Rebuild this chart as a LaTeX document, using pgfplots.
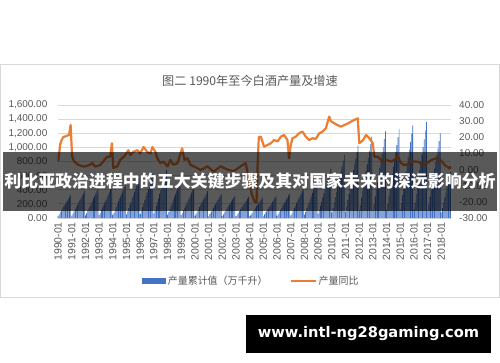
\documentclass[border=0pt]{standalone}
\usepackage{fontspec}
\setmainfont{Liberation Sans}
\newfontfamily\cjk{Noto Sans CJK SC}
\newfontfamily\wm{DejaVu Sans}
\usepackage{pgfplots}
\pgfplotsset{compat=1.18}
\definecolor{barblue}{HTML}{4472C4}
\definecolor{lineorange}{HTML}{ED7D31}
\definecolor{txtgray}{HTML}{595959}
\definecolor{gridgray}{HTML}{D9D9D9}
\begin{document}
\begin{tikzpicture}[x=1bp,y=1bp]
\fill[white] (0,0) rectangle (500,362);
\draw[gridgray, line width=1bp, fill=white] (0.5,65) rectangle (499.5,298);
\node[text=txtgray, font=\cjk\fontsize{12.2}{14}\selectfont] at (250,281) {图二 1990年至今白酒产量及增速};

\begin{axis}[
  at={(57.5bp,144bp)}, anchor=south west, scale only axis,
  width=393.5bp, height=113bp,
  xmin=-0.5, xmax=344.5, ymin=0, ymax=1600,
  axis line style={draw=none}, major tick length=0pt,
  ytick={0,200,...,1600}, ymajorgrids,
  grid style={gridgray, line width=0.8bp},
  xtick={0,12,...,336},
  xticklabels={1990-01,1991-01,1992-01,1993-01,1994-01,1995-01,1996-01,1997-01,1998-01,1999-01,2000-01,2001-01,2002-01,2003-01,2004-01,2005-01,2006-01,2007-01,2008-01,2009-01,2010-01,2011-01,2012-01,2013-01,2014-01,2015-01,2016-01,2017-01,2018-01},
  xticklabel style={rotate=90, anchor=east, inner sep=0pt, text=txtgray, font=\fontsize{10.5}{12}\selectfont},
  xticklabel shift=4bp,
  yticklabel style={anchor=east, inner sep=0pt, text=txtgray, font=\fontsize{10}{12}\selectfont,
    /pgf/number format/.cd, fixed, fixed zerofill, precision=2, 1000 sep={,}, assume math mode=true},
  yticklabel shift=10bp,
]
\addplot[ybar, bar width=0.6, fill=barblue, draw=none] table[row sep=\\, x expr=\coordindex, y=v] {
v\\
30\\53\\83\\109\\135\\165\\191\\218\\244\\271\\300\\330\\
34\\61\\95\\125\\156\\190\\220\\251\\281\\312\\346\\380\\
38\\67\\105\\139\\172\\210\\244\\277\\311\\344\\382\\420\\
41\\72\\113\\149\\185\\225\\261\\297\\333\\369\\410\\450\\
43\\77\\120\\158\\197\\240\\278\\317\\355\\394\\437\\480\\
50\\90\\140\\185\\230\\280\\325\\370\\414\\459\\510\\560\\
56\\99\\155\\205\\254\\310\\360\\409\\459\\508\\564\\620\\
61\\109\\170\\224\\279\\340\\394\\449\\503\\558\\619\\680\\
47\\83\\130\\172\\213\\260\\302\\343\\385\\426\\473\\520\\
40\\70\\110\\145\\180\\220\\255\\290\\326\\361\\400\\440\\
34\\61\\95\\125\\156\\190\\220\\251\\281\\312\\346\\380\\
31\\54\\85\\112\\139\\170\\197\\224\\252\\279\\309\\340\\
29\\51\\80\\106\\131\\160\\186\\211\\237\\262\\291\\320\\
27\\48\\75\\99\\123\\150\\174\\198\\222\\246\\273\\300\\
26\\46\\73\\96\\119\\145\\168\\191\\215\\238\\264\\290\\
28\\50\\78\\102\\127\\155\\180\\205\\229\\254\\282\\310\\
32\\56\\88\\116\\144\\175\\203\\231\\259\\287\\319\\350\\
38\\67\\105\\139\\172\\210\\244\\277\\311\\344\\382\\420\\
49\\86\\135\\178\\221\\270\\313\\356\\400\\443\\491\\540\\
63\\112\\175\\231\\287\\350\\406\\462\\518\\574\\637\\700\\
80\\143\\223\\294\\365\\446\\517\\588\\659\\731\\811\\891\\
92\\164\\257\\339\\421\\513\\595\\677\\759\\841\\934\\1026\\
104\\184\\288\\380\\473\\577\\669\\761\\853\\945\\1049\\1153\\
110\\196\\307\\405\\503\\613\\711\\809\\907\\1005\\1116\\1226\\
113\\201\\314\\415\\515\\629\\729\\830\\930\\1031\\1144\\1257\\
118\\210\\328\\433\\538\\657\\762\\867\\972\\1077\\1195\\1313\\
122\\217\\340\\448\\557\\679\\788\\896\\1005\\1114\\1236\\1358\\
108\\192\\300\\395\\491\\599\\695\\791\\887\\982\\1090\\1198\\
79\\141\\220\\290\\361\\440\\510\\581\\651\\
};
\end{axis}

\begin{axis}[
  at={(57.5bp,144bp)}, anchor=south west, scale only axis,
  width=393.5bp, height=113bp,
  xmin=-0.5, xmax=344.5, ymin=-30, ymax=40,
  axis line style={draw=none}, major tick length=0pt,
  xtick=\empty,
  ytick={-30,-20,...,40}, yticklabel pos=right,
  yticklabel style={anchor=west, inner sep=0pt, text=txtgray, font=\fontsize{10}{12}\selectfont,
    /pgf/number format/.cd, fixed, fixed zerofill, precision=2, assume math mode=true},
  yticklabel shift=8bp,
  legend columns=2,
  legend style={at={(0.493,-0.555)}, anchor=center, draw=none, fill=none,
    font=\cjk\fontsize{10}{12}\selectfont, text=txtgray,
    /tikz/every even column/.append style={column sep=20bp}},
]
\addlegendimage{legend image code/.code={\fill[barblue] (0bp,-2.6bp) rectangle (23bp,2.6bp);}}
\addlegendentry{产量累计值（万千升）}
\addplot[lineorange, line width=2.2bp, line join=round, mark=none,
  legend image code/.code={\draw[lineorange, line width=2.2bp] (0bp,0bp) -- (25bp,0bp);}]
coordinates {
(0,5)(1.3,12)(2,16)(3,18)(4.4,20)(6.2,20.5)(8,21)(9.7,21.5)(11,27.6)(12.3,8)(14,5)(17.6,3)(22,1.8)(26.4,2.5)(30,4)(32.5,1.8)(37,2.8)(39.6,5)(43,8)(45.7,8)(47.2,16.3)(48.4,1)(52,2)(54.5,6)(59,9)(61.6,12)(63.3,9)(66,11)(69.5,12)(72,10)(75,14)(78,11)(81,10)(82.7,14)(85.3,11)(87,7)(89.7,4)(92.3,5)(96,2)(98.5,6)(101,3)(104.7,4)(108.8,13.2)(110.8,6)(113.5,7)(116,3)(118.7,2)(122,1)(125,-0.3)(131,2)(136.3,-1.3)(142.5,2)(148.6,0)(154,-1)(160,2)(164.5,4)(167,-5)(169.7,-15)(172.4,-20)(174,-20.5)(175,4)(176,20)(177.7,20.4)(180.6,14.2)(183,15)(186.5,16.3)(189.4,18.3)(192.6,17.5)(195.3,20.4)(198.2,21.4)(201.1,18.3)(202.5,7)(204,15)(205.5,19.4)(208.4,20.4)(211.3,22.5)(214.3,23.5)(217.2,20.4)(220.1,18.3)(223.1,19.4)(226,19)(229,22.5)(231.9,23.5)(234.8,25.6)(237.7,32.8)(239.2,30)(242.1,28.7)(245.1,27.5)(248,26.6)(250.9,27.6)(253.9,28.5)(256.8,29.7)(259.7,30.7)(262.7,31.8)(264.1,16.3)(267.1,18)(270,21.4)(272.9,19.4)(275.9,16.3)(277.3,8)(280.3,8)(283.2,5.9)(287.6,6)(292,4.9)(294.6,6)(297.9,8)(300.8,4)(303.7,2.8)(307,3.5)(309.6,5)(315.5,4.9)(321.3,2.8)(327.2,5.9)(331.6,7)(336,5.5)(338.9,2.8)(343.3,0.8)(344.3,2)
};
\addlegendentry{产量同比}
\end{axis}

\fill[black, opacity=0.65] (3,151) rectangle (497,210);
\node[text=white, font=\cjk\bfseries\fontsize{17}{20}\selectfont] at (250,180.5) {利比亚政治进程中的五大关键步骤及其对国家未来的深远影响分析};
\fill[black] (246,9) rectangle (491,47);
\node[text=white, font=\wm\bfseries\fontsize{14.7}{17}\selectfont] at (368.5,28) {www.intl-ng28gaming.com};
\end{tikzpicture}
\end{document}
